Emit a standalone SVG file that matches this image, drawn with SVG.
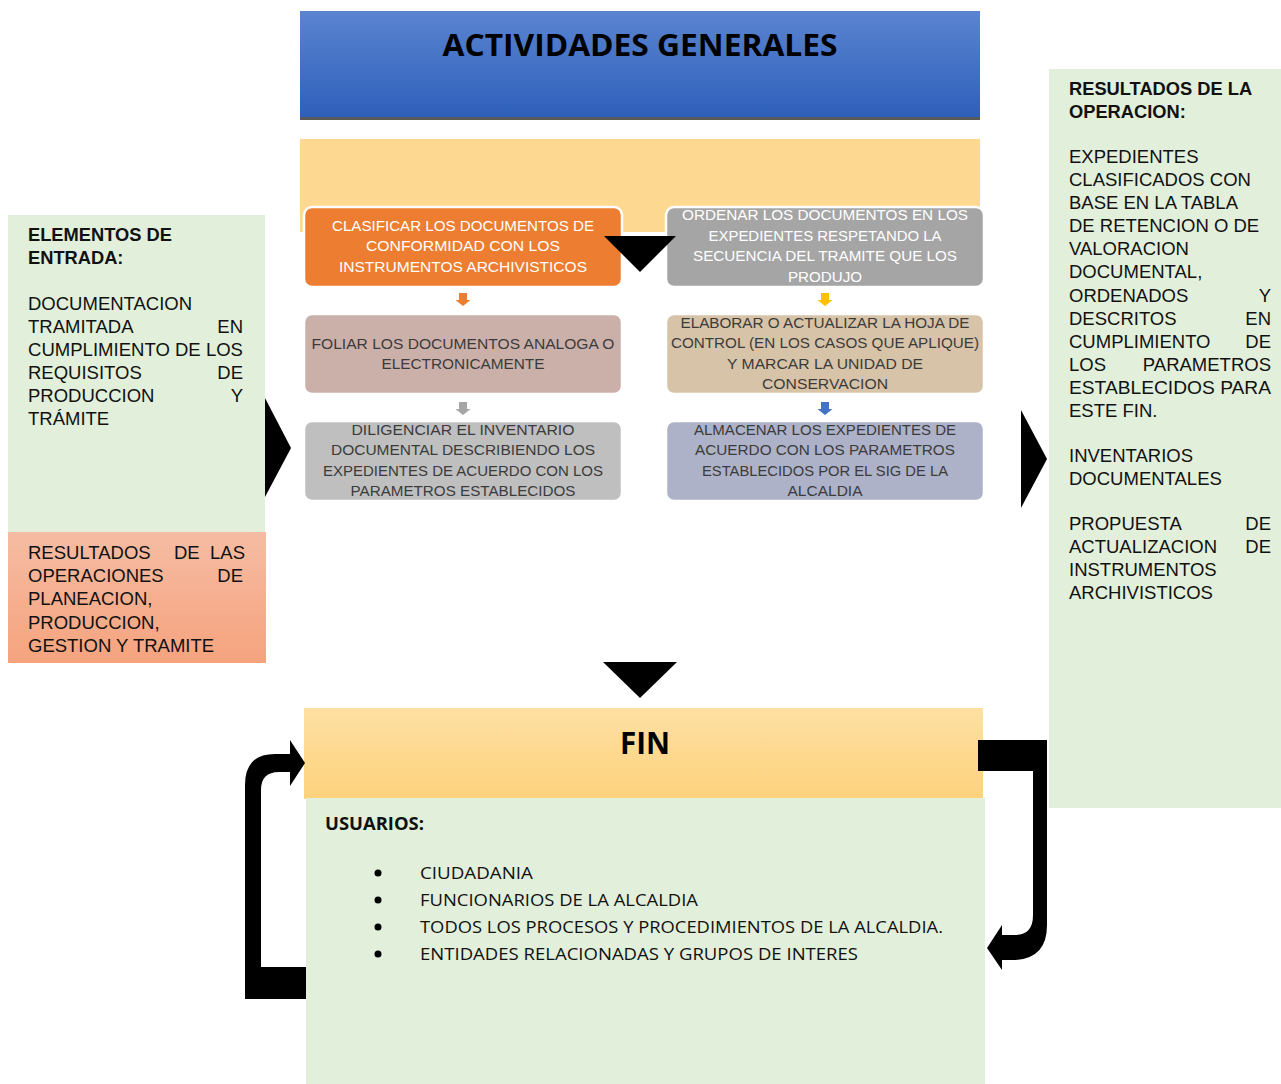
<svg xmlns="http://www.w3.org/2000/svg" width="1281" height="1084" viewBox="0 0 1281 1084">
<defs>
<linearGradient id="gBlue" x1="0" y1="0" x2="0" y2="1"><stop offset="0" stop-color="#5b84d1"/><stop offset="1" stop-color="#2d5fba"/></linearGradient>
<linearGradient id="gYel" x1="0" y1="0" x2="0" y2="1"><stop offset="0" stop-color="#fee0a3"/><stop offset="1" stop-color="#fdd27c"/></linearGradient>
<linearGradient id="gSal" x1="0" y1="0" x2="0" y2="1"><stop offset="0" stop-color="#f5bca3"/><stop offset="1" stop-color="#f6a37e"/></linearGradient>
<path id="sArrow" d="M-4,0 H4 V7 H7.5 L0,13 L-7.5,7 H-4 Z"/>
<style>
.box{stroke:#ffffff;stroke-width:2.5}
.bt{font-family:"Liberation Sans",Arial,sans-serif;font-size:14.5px;text-anchor:middle}
.w{fill:#ffffff}
.d{fill:#3b3b3b}
.pt{font-family:"Liberation Sans",Arial,sans-serif;font-size:18.5px;fill:#111}
.pb{font-weight:bold;font-size:18.3px}
.r{text-anchor:end}
.ut{font-family:"Open Sans","Liberation Sans",sans-serif;font-size:17px;fill:#111}
.hd{font-family:"Open Sans","Liberation Sans",sans-serif;font-weight:bold;fill:#000;text-anchor:middle}
.blk{fill:#000}
</style>
</defs>
<rect width="1281" height="1084" fill="#ffffff"/>

<g id="header">
<rect x="300" y="11" width="680" height="108" fill="url(#gBlue)"/>
<rect x="300" y="117" width="680" height="3" fill="#595959"/>
<text class="hd" x="640" y="56" font-size="30" textLength="395" lengthAdjust="spacingAndGlyphs">ACTIVIDADES GENERALES</text>
</g>

<g id="band">
<rect x="300" y="139" width="680" height="93" fill="#fdd891"/>
</g>

<g id="box1">
<rect class="box" x="304" y="207" width="318" height="80" rx="8" fill="#ed7d31"/>
<text class="bt w" x="463" y="231" textLength="262" lengthAdjust="spacingAndGlyphs">CLASIFICAR LOS DOCUMENTOS DE</text>
<text class="bt w" x="463" y="251" textLength="194" lengthAdjust="spacingAndGlyphs">CONFORMIDAD CON LOS</text>
<text class="bt w" x="463" y="272" textLength="248" lengthAdjust="spacingAndGlyphs">INSTRUMENTOS ARCHIVISTICOS</text>
</g>
<g id="box2">
<rect class="box" x="666" y="207" width="318" height="80" rx="8" fill="#a5a5a5"/>
<text class="bt w" x="825" y="220" textLength="286" lengthAdjust="spacingAndGlyphs">ORDENAR LOS DOCUMENTOS EN LOS</text>
<text class="bt w" x="825" y="241" textLength="233" lengthAdjust="spacingAndGlyphs">EXPEDIENTES RESPETANDO LA</text>
<text class="bt w" x="825" y="261" textLength="264" lengthAdjust="spacingAndGlyphs">SECUENCIA DEL TRAMITE QUE LOS</text>
<text class="bt w" x="825" y="282" textLength="74" lengthAdjust="spacingAndGlyphs">PRODUJO</text>
</g>
<g id="box3">
<rect class="box" x="304" y="314" width="318" height="80" rx="8" fill="#cbb0aa"/>
<text class="bt d" x="463" y="349" textLength="303" lengthAdjust="spacingAndGlyphs">FOLIAR LOS DOCUMENTOS ANALOGA O</text>
<text class="bt d" x="463" y="369" textLength="163" lengthAdjust="spacingAndGlyphs">ELECTRONICAMENTE</text>
</g>
<g id="box4">
<rect class="box" x="666" y="314" width="318" height="80" rx="8" fill="#d7c3a7"/>
<text class="bt d" x="825" y="328" textLength="289" lengthAdjust="spacingAndGlyphs">ELABORAR O ACTUALIZAR LA HOJA DE</text>
<text class="bt d" x="825" y="348" textLength="308" lengthAdjust="spacingAndGlyphs">CONTROL (EN LOS CASOS QUE APLIQUE)</text>
<text class="bt d" x="825" y="369" textLength="196" lengthAdjust="spacingAndGlyphs">Y MARCAR LA UNIDAD DE</text>
<text class="bt d" x="825" y="389" textLength="126" lengthAdjust="spacingAndGlyphs">CONSERVACION</text>
</g>
<g id="box5">
<rect class="box" x="304" y="421" width="318" height="80" rx="8" fill="#bfbfbf"/>
<text class="bt d" x="463" y="435" textLength="223" lengthAdjust="spacingAndGlyphs">DILIGENCIAR EL INVENTARIO</text>
<text class="bt d" x="463" y="455" textLength="264" lengthAdjust="spacingAndGlyphs">DOCUMENTAL DESCRIBIENDO LOS</text>
<text class="bt d" x="463" y="476" textLength="280" lengthAdjust="spacingAndGlyphs">EXPEDIENTES DE ACUERDO CON LOS</text>
<text class="bt d" x="463" y="496" textLength="225" lengthAdjust="spacingAndGlyphs">PARAMETROS ESTABLECIDOS</text>
</g>
<g id="box6">
<rect class="box" x="666" y="421" width="318" height="80" rx="8" fill="#adb2c8"/>
<text class="bt d" x="825" y="435" textLength="262" lengthAdjust="spacingAndGlyphs">ALMACENAR LOS EXPEDIENTES DE</text>
<text class="bt d" x="825" y="455" textLength="260" lengthAdjust="spacingAndGlyphs">ACUERDO CON LOS PARAMETROS</text>
<text class="bt d" x="825" y="476" textLength="246" lengthAdjust="spacingAndGlyphs">ESTABLECIDOS POR EL SIG DE LA</text>
<text class="bt d" x="825" y="496" textLength="75" lengthAdjust="spacingAndGlyphs">ALCALDIA</text>
</g>

<g id="entrada">
<rect x="8" y="215" width="257" height="318" fill="#e2efda"/>
<rect x="8" y="532" width="258" height="131" fill="url(#gSal)"/>
<text class="pt pb" x="28" y="241">ELEMENTOS DE</text>
<text class="pt pb" x="28" y="264">ENTRADA:</text>
<text class="pt" x="28" y="310">DOCUMENTACION</text>
<text class="pt" x="28" y="333">TRAMITADA</text><text class="pt r" x="243" y="333">EN</text>
<text class="pt" x="28" y="356" textLength="215" lengthAdjust="spacingAndGlyphs">CUMPLIMIENTO DE LOS</text>
<text class="pt" x="28" y="379">REQUISITOS</text><text class="pt r" x="243" y="379">DE</text>
<text class="pt" x="28" y="402">PRODUCCION</text><text class="pt r" x="243" y="402">Y</text>
<text class="pt" x="28" y="425">TRÁMITE</text>
<text class="pt" x="28" y="559">RESULTADOS</text><text class="pt" x="174" y="559">DE</text><text class="pt r" x="245" y="559">LAS</text>
<text class="pt" x="28" y="582">OPERACIONES</text><text class="pt r" x="243" y="582">DE</text>
<text class="pt" x="28" y="605">PLANEACION,</text>
<text class="pt" x="28" y="629">PRODUCCION,</text>
<text class="pt" x="28" y="652">GESTION Y TRAMITE</text>
</g>

<g id="resultados">
<rect x="1049" y="69" width="232" height="739" fill="#e2efda"/>
<text class="pt pb" x="1069" y="95">RESULTADOS DE LA</text>
<text class="pt pb" x="1069" y="118">OPERACION:</text>
<text class="pt" x="1069" y="163">EXPEDIENTES</text>
<text class="pt" x="1069" y="186">CLASIFICADOS CON</text>
<text class="pt" x="1069" y="209">BASE EN LA TABLA</text>
<text class="pt" x="1069" y="232">DE RETENCION O DE</text>
<text class="pt" x="1069" y="255">VALORACION</text>
<text class="pt" x="1069" y="278">DOCUMENTAL,</text>
<text class="pt" x="1069" y="302">ORDENADOS</text><text class="pt r" x="1271" y="302">Y</text>
<text class="pt" x="1069" y="325">DESCRITOS</text><text class="pt r" x="1271" y="325">EN</text>
<text class="pt" x="1069" y="348">CUMPLIMIENTO</text><text class="pt r" x="1271" y="348">DE</text>
<text class="pt" x="1069" y="371">LOS</text><text class="pt r" x="1271" y="371">PARAMETROS</text>
<text class="pt" x="1069" y="394" textLength="202" lengthAdjust="spacingAndGlyphs">ESTABLECIDOS PARA</text>
<text class="pt" x="1069" y="417">ESTE FIN.</text>
<text class="pt" x="1069" y="462">INVENTARIOS</text>
<text class="pt" x="1069" y="485">DOCUMENTALES</text>
<text class="pt" x="1069" y="530">PROPUESTA</text><text class="pt r" x="1271" y="530">DE</text>
<text class="pt" x="1069" y="553">ACTUALIZACION</text><text class="pt r" x="1271" y="553">DE</text>
<text class="pt" x="1069" y="576">INSTRUMENTOS</text>
<text class="pt" x="1069" y="599">ARCHIVISTICOS</text>
</g>

<g id="fin">
<rect x="304" y="708" width="679" height="91" fill="url(#gYel)"/>
<text class="hd" x="645" y="754" font-size="30" textLength="50" lengthAdjust="spacingAndGlyphs">FIN</text>
</g>

<g id="usuarios">
<rect x="306" y="798" width="679" height="286" fill="#e2efda"/>
<text class="ut" x="325" y="830" font-weight="bold" textLength="99" lengthAdjust="spacingAndGlyphs">USUARIOS:</text>
<circle cx="378" cy="873" r="3.5" fill="#000"/>
<circle cx="378" cy="900" r="3.5" fill="#000"/>
<circle cx="378" cy="927" r="3.5" fill="#000"/>
<circle cx="378" cy="954" r="3.5" fill="#000"/>
<text class="ut" x="420" y="879" textLength="113" lengthAdjust="spacingAndGlyphs">CIUDADANIA</text>
<text class="ut" x="420" y="906" textLength="278" lengthAdjust="spacingAndGlyphs">FUNCIONARIOS DE LA ALCALDIA</text>
<text class="ut" x="420" y="933" textLength="523" lengthAdjust="spacingAndGlyphs">TODOS LOS PROCESOS Y PROCEDIMIENTOS DE LA ALCALDIA.</text>
<text class="ut" x="420" y="960" textLength="438" lengthAdjust="spacingAndGlyphs">ENTIDADES RELACIONADAS Y GRUPOS DE INTERES</text>
</g>

<g id="connectors">
<polygon class="blk" points="604,236 676,236 640,272"/>
<use href="#sArrow" x="463" y="293" fill="#ed7d31"/>
<use href="#sArrow" x="825" y="293" fill="#ffc000"/>
<use href="#sArrow" x="463" y="402" fill="#a5a5a5"/>
<use href="#sArrow" x="825" y="402" fill="#4472c4"/>
<polygon class="blk" points="265,398 291,448 265,497"/>
<polygon class="blk" points="1021,410 1047,459 1021,508"/>
<polygon class="blk" points="603,662 677,662 640,698"/>
<path class="blk" d="M306,967 H261 V790 Q261,772 279,772 H290 V786 L305,763 L290,740 V754 H275 Q245,754 245,785 V999 H306 Z"/>
<path class="blk" d="M978,740 H1047 V925 Q1047,960 1012,960 H1002 V970 L987,948 L1002,925 V935 H1015 Q1033,935 1033,915 V771 H978 Z"/>
</g>
</svg>
